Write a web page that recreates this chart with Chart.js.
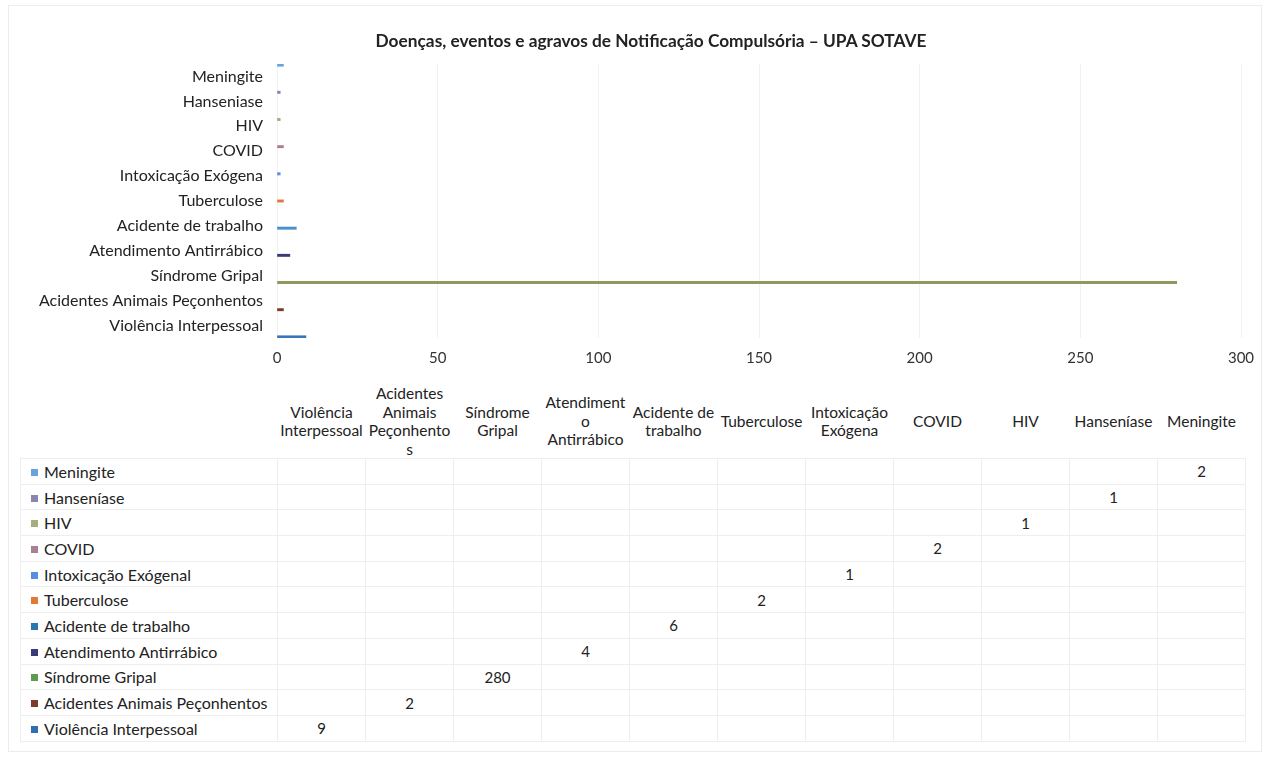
<!DOCTYPE html>
<html>
<head>
<meta charset="utf-8">
<script src="https://cdn.jsdelivr.net/npm/chart.js@4"></script>
<style>
  body { margin: 0; background: #fff; font-family: Lato, "Open Sans", sans-serif; color: #222; }
  #wrap { position: relative; width: 1266px; height: 757px; overflow: hidden; }
  #frame { position: absolute; left: 8px; top: 5px; width: 1252px; height: 745px; border: 1px solid #ececec; }
  #title { position: absolute; left: 151px; width: 1000px; top: 30px; text-align: center; font-weight: bold; font-size: 17.3px; line-height: 22px; color: #222; }
  #barChart { position: absolute; left: 0; top: 0; }
  #dataTable { position: absolute; left: 20px; top: 384px; border-collapse: collapse; table-layout: fixed; }
  #dataTable td { border: 1px solid #eeeeee; padding: 0; text-align: center; font-size: 15px; height: 24.7px; }
  #dataTable tr.head td { border: none; border-bottom: 1px solid #eeeeee; height: 74px; font-size: 15.5px; line-height: 18.5px; overflow-wrap: anywhere; vertical-align: middle; }
  #dataTable td.lbl { text-align: left; padding-left: 10px; white-space: nowrap; font-size: 16px; }
  .key { display: inline-block; width: 7px; height: 7px; margin-right: 6px; vertical-align: 2px; }
</style>
</head>
<body>
<div id="wrap">
  <div id="frame"></div>
  <canvas id="barChart" width="1266" height="380"></canvas>
  <div id="title"></div>
  <table id="dataTable"></table>
</div>
<script>
/* ---------- DATA ---------- */
const chartTitle = "Doenças, eventos e agravos de Notificação Compulsória – UPA SOTAVE";

// categories top to bottom as drawn on the axis
const categories = [
  "Meningite", "Hanseniase", "HIV", "COVID", "Intoxicação Exógena",
  "Tuberculose", "Acidente de trabalho", "Atendimento Antirrábico",
  "Síndrome Gripal", "Acidentes Animais Peçonhentos", "Violência Interpessoal"
];

// series names as in the data table legend (same order)
const seriesNames = [
  "Meningite", "Hanseníase", "HIV", "COVID", "Intoxicação Exógenal",
  "Tuberculose", "Acidente de trabalho", "Atendimento Antirrábico",
  "Síndrome Gripal", "Acidentes Animais Peçonhentos", "Violência Interpessoal"
];

// one value per series, each in its own category
const seriesValues = [2, 1, 1, 2, 1, 2, 6, 4, 280, 2, 9];

const seriesColors = [
  "#6aa3dc", "#8b84ad", "#a3ad7d", "#a88095", "#5a8ee0",
  "#e07a35", "#4a90c8", "#3a3a78", "#8e9a5c", "#7a3e28", "#3a74b8"
];
const keyColors = [
  "#6aa3dc", "#8b84ad", "#a3ad7d", "#a88095", "#5a8ee0",
  "#e07a35", "#2a78ad", "#3a3a78", "#5f9a4d", "#7a3e28", "#2f6db5"
];

// table header order = left to right (bottom category first)
const tableColumns = [
  "Violência Interpessoal", "Acidentes Animais Peçonhentos", "Síndrome Gripal",
  "Atendimento Antirrábico", "Acidente de trabalho", "Tuberculose",
  "Intoxicação Exógena", "COVID", "HIV", "Hanseníase", "Meningite"
];

const xTicksMax = 300;
const xTicksStep = 50;

document.getElementById("title").textContent = chartTitle;

/* ---------- BAR CHART ---------- */
const datasets = seriesNames.map((name, i) => {
  const data = categories.map((c, j) => (j === i ? seriesValues[i] : null));
  return {
    label: name,
    data: data,
    backgroundColor: seriesColors[i],
    categoryPercentage: 1.0,
    barPercentage: 1.0
  };
});

new Chart(document.getElementById("barChart"), {
  type: "bar",
  data: { labels: categories, datasets: datasets },
  options: {
    responsive: false,
    animation: false,
    indexAxis: "y",
    layout: { padding: { top: 64, right: 25, bottom: 2, left: 0 } },
    plugins: {
      legend: { display: false },
      tooltip: { enabled: false }
    },
    scales: {
      x: {
        min: 0,
        max: xTicksMax,
        ticks: {
          stepSize: xTicksStep,
          color: "#333",
          padding: 11,
          font: { family: "Lato", size: 15 }
        },
        grid: { color: "#f1f1f1", drawTicks: false },
        border: { display: false }
      },
      y: {
        afterFit: scale => { scale.width = 277; },
        ticks: {
          color: "#222",
          padding: 6,
          autoSkip: false,
          font: { family: "Lato", size: 16 }
        },
        grid: { display: false },
        border: { display: false }
      }
    }
  }
});

/* ---------- DATA TABLE ---------- */
const table = document.getElementById("dataTable");
let html = '<tr class="head"><td style="width:257px"></td>';
tableColumns.forEach(c => { html += `<td style="width:88px">${c}</td>`; });
html += "</tr>";

seriesNames.forEach((name, i) => {
  // series i lives in category i; its column is counted from the bottom
  const col = categories.length - 1 - i;
  html += `<tr><td class="lbl"><span class="key" style="background:${keyColors[i]}"></span>${name}</td>`;
  tableColumns.forEach((c, k) => {
    html += `<td>${k === col ? seriesValues[i] : ""}</td>`;
  });
  html += "</tr>";
});
table.innerHTML = html;
</script>
</body>
</html>
